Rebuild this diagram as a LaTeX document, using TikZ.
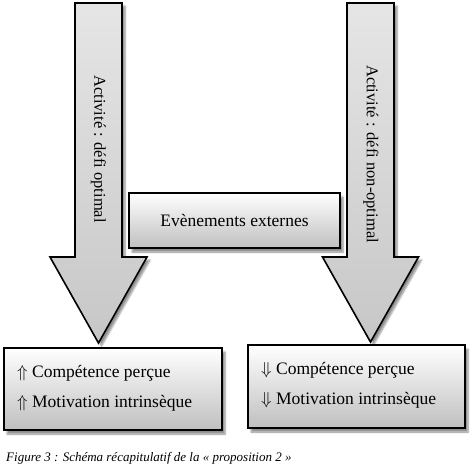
\documentclass[tikz,border=0pt]{standalone}
\usepackage{fontspec}
\setmainfont{Liberation Serif}
\usetikzlibrary{shadows.blur}
\tikzset{
  bigarrow/.style={draw=black, line width=1.6pt, line join=miter, top color=black!10, bottom color=black!22,
    blur shadow={shadow xshift=3pt, shadow yshift=-3pt, shadow blur steps=6, shadow opacity=45}},
  gbox/.style={draw=black, line width=1.6pt, top color=white, bottom color=black!25,
    blur shadow={shadow xshift=3pt, shadow yshift=-4pt, shadow blur steps=6, shadow opacity=45}},
  arrowtext/.style={rotate=-90, font=\fontsize{16.5}{18}\selectfont, inner sep=0pt},
  boxtext/.style={anchor=west, font=\fontsize{17.5}{20}\selectfont, inner sep=0pt},
}
\begin{document}
\begin{tikzpicture}[x=1pt,y=-1pt]
\useasboundingbox (0,0) rectangle (474,465);
% coordinates of the arrows
\coordinate (la1) at (75,3);
\coordinate (lt) at (98.5,343);
\coordinate (ra1) at (347,3);
\coordinate (rt) at (370.5,342);
% left arrow
\path[bigarrow] (la1) -- (122,3) -- (122,257) -- (147,257) -- (lt) -- (50,257) -- (75,257) -- cycle;
\node[arrowtext] (lat) at (98.5,149) {Activité : défi optimal};
% right arrow
\path[bigarrow] (ra1) -- (394,3) -- (394,257) -- (418.5,257) -- (rt) -- (322.5,257) -- (347,257) -- cycle;
\node[arrowtext] (rat) at (371,154) {Activité : défi non-optimal};
% events box
\node[gbox, minimum width=211pt, minimum height=55pt, inner sep=0pt, font=\fontsize{17.5}{20}\selectfont] (ev) at (234.5,220.5) {Evènements externes};
% bottom boxes
\node[gbox, minimum width=218pt, minimum height=82pt, inner sep=0pt] (lb) at (113,389) {};
\node[gbox, minimum width=217pt, minimum height=83pt, inner sep=0pt] (rb) at (356.5,386.5) {};
\node[boxtext] (l1) at (17,373) {$\Uparrow$ Compétence perçue};
\node[boxtext] (l2) at (17,403) {$\Uparrow$ Motivation intrinsèque};
\node[boxtext] (r1) at (261,370) {$\Downarrow$ Compétence perçue};
\node[boxtext] (r2) at (261,400) {$\Downarrow$ Motivation intrinsèque};
% caption
\node[anchor=base west, inner sep=0pt, font=\fontsize{13}{15}\selectfont\itshape] (cap) at (6,461) {Figure 3~: Schéma récapitulatif de la «~proposition 2~»};
\end{tikzpicture}
\end{document}
